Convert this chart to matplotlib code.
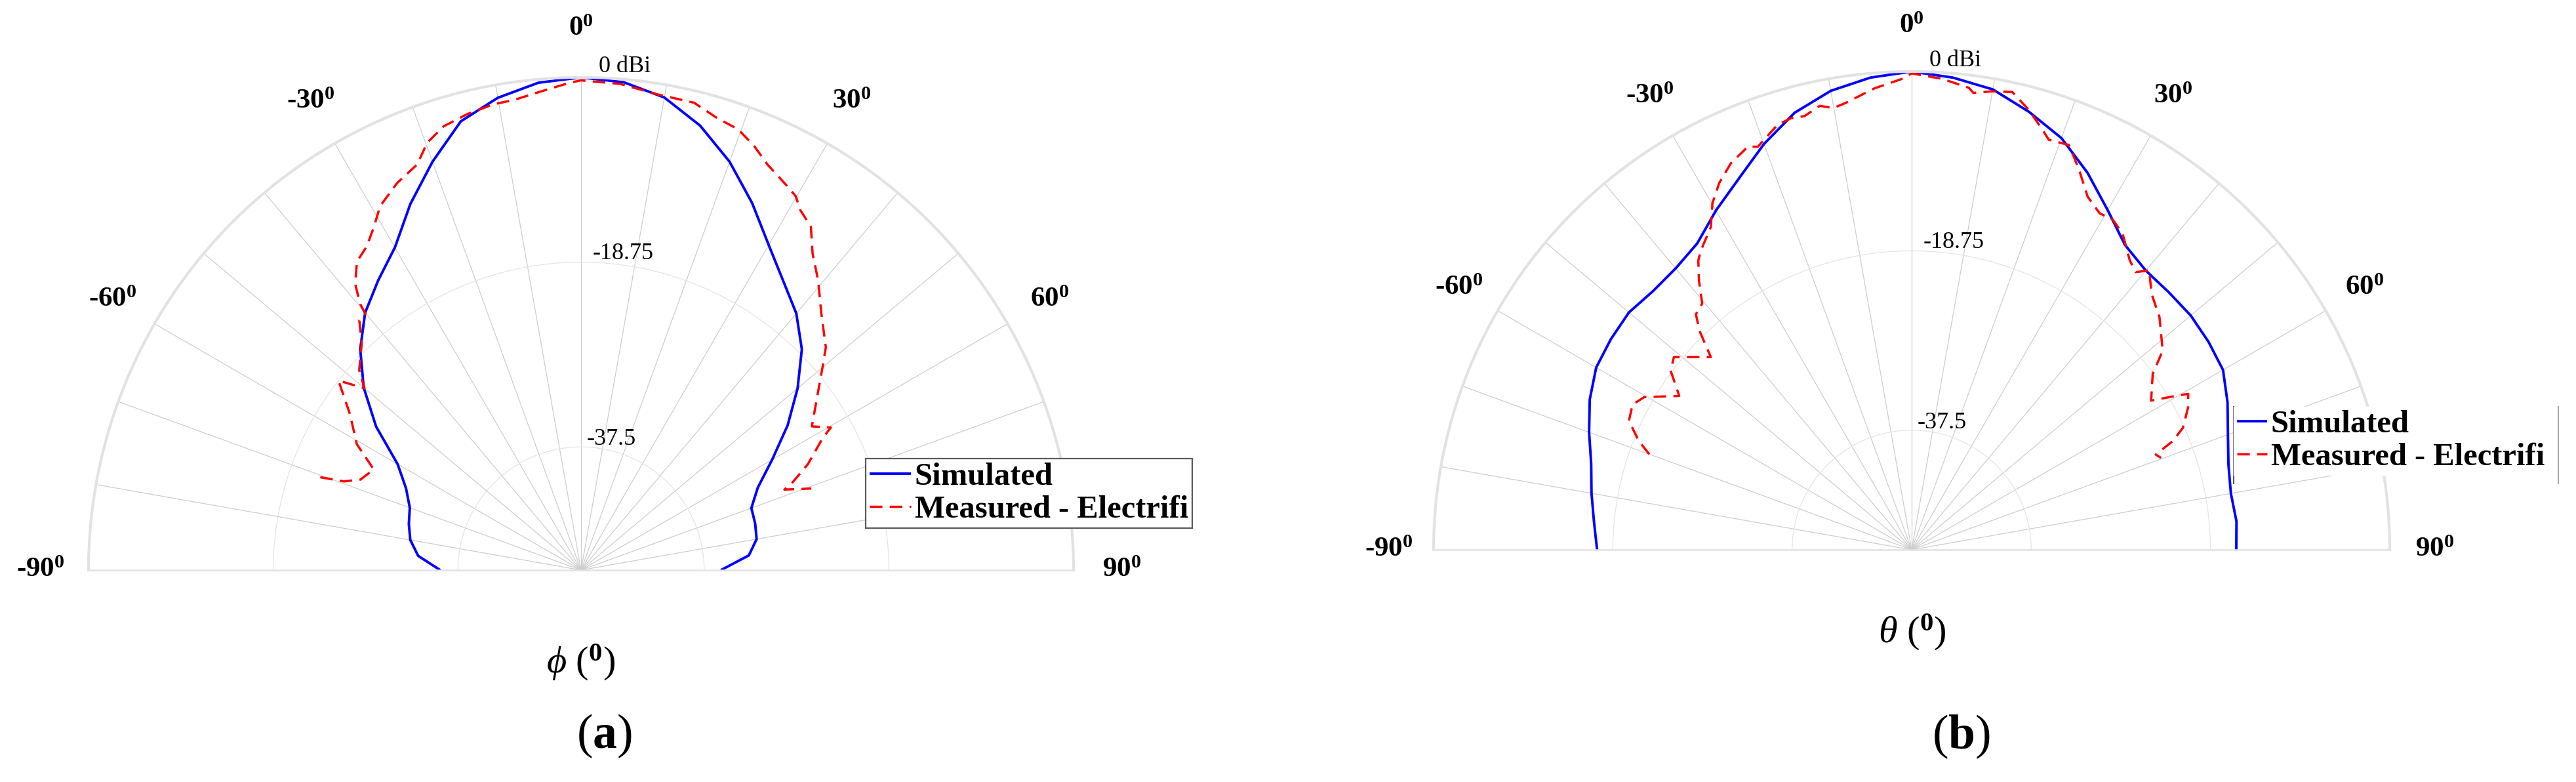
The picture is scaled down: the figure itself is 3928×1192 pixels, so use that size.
import numpy as np
import matplotlib
matplotlib.use("Agg")
import matplotlib.pyplot as plt
from matplotlib.lines import Line2D
from matplotlib.font_manager import FontProperties

plt.rcParams['font.family'] = ['Liberation Serif', 'DejaVu Serif']
plt.rcParams['mathtext.fontset'] = 'custom'
plt.rcParams['mathtext.rm'] = 'Liberation Serif'
plt.rcParams['mathtext.it'] = 'Liberation Serif:italic'
plt.rcParams['mathtext.bf'] = 'Liberation Serif:bold'

# ---------------- data ----------------
angle_ticks = [-90, -60, -30, 0, 30, 60, 90]
ring_ticks = [-37.5, -18.75]
ring_labels = ['-37.5', '-18.75']
r_min, r_max = -50, 0

sim_ang = [-90, -85, -80, -75, -70, -65, -60, -55, -50, -45, -40, -35, -30, -25, -20, -15, -10, -5,
           0, 5, 10, 15, 20, 25, 30, 35, 40, 45, 50, 55, 60, 65, 70, 75, 80, 85, 90]

# (a) phi cut
phi_sim_db = [-35.7, -33.4, -32.4, -31.9, -31.5, -30.4, -28.5, -24.6, -21.2, -18.3, -15.9, -14.1, -12.2,
              -9.0, -5.9, -2.85, -1.33, -0.35,
              0.0, -0.3, -1.3, -3.3, -5.9, -8.9, -11.9, -14.2, -16.0, -18.3, -21.3, -24.4, -27.6,
              -30.2, -31.6, -31.7, -31.9, -32.9, -35.8]

phi_meas_ang = [-70.4, -69.5, -67.7, -64.1, -60.7, -56.0, -52.0, -50.0, -48.0, -44.1, -41.6, -40.1,
                -39.7, -38.3, -36.0, -33.5, -31.1, -28.9, -25.4, -22.0, -19.8, -17.2, -14.0, -10.6,
                -8.1, -4.0, -1.2, 0.0, 4.6, 9.1, 13.6, 16.8, 19.6, 22.2, 24.7, 28.0, 29.9, 31.3,
                33.8, 36.2, 39.3, 43.1, 47.7, 50.0, 52.9, 58.1, 60.3, 61.3, 65.0, 67.8, 68.4, 70.5]
phi_meas_db = [-21.9, -24.3, -25.8, -26.6, -23.9, -21.7, -18.75, -21.3, -19.7, -18.0, -16.1, -16.0,
               -14.9, -13.0, -11.3, -10.6, -9.3, -7.8, -6.5, -5.6, -3.9, -2.85, -2.3, -1.9,
               -1.8, -1.1, -0.5, -0.3, -0.5, -1.1, -1.2, -2.1, -2.5, -3.5, -4.7, -5.7, -6.25, -7.2,
               -8.05, -10.2, -12.0, -14.3, -16.4, -18.0, -19.8, -22.4, -20.8, -22.0, -24.6, -27.0,
               -27.8, -25.2]

# (b) theta cut
theta_sim_db = [-17.1, -16.65, -16.0, -15.3, -14.1, -12.85, -11.9, -11.6, -11.4, -11.75, -11.6, -10.9,
                -9.05, -7.2, -4.85, -2.7, -1.28, -0.45,
                0.0, -0.45, -1.13, -2.6, -4.2, -6.5, -9.0, -11.1, -11.9, -11.95, -11.9, -12.1,
                -12.4, -13.55, -14.8, -15.7, -16.1, -15.9, -16.05]

theta_meas_ang = [-70.0, -68.3, -65.5, -62.5, -60.3, -56.5, -53.4, -51.0, -46.2, -44.1, -42.5, -40.4,
                  -38.3, -36.4, -35.1, -31.9, -29.9, -27.7, -25.1, -22.1, -20.9, -17.5, -15.6, -13.9,
                  -11.7, -10.1, -8.5, -4.6, -1.2, 0.0, 3.7, 7.05, 7.7, 10.0, 12.4, 14.9, 17.3, 18.5,
                  21.25, 23.8, 26.5, 29.2, 31.4, 33.7, 37.0, 38.9, 40.4, 43.1, 46.8, 51.6, 53.9,
                  58.1, 59.8, 60.6, 62.8, 65.8, 67.4, 68.7, 69.8]
theta_meas_db = [-20.8, -19.3, -17.5, -17.1, -17.8, -20.85, -18.6, -18.0, -20.9, -18.1, -16.6, -16.2,
                 -14.1, -12.4, -11.7, -10.25, -8.2, -6.7, -5.4, -4.5, -4.9, -3.4, -3.15, -3.3,
                 -2.6, -3.1, -2.8, -1.6, -0.77, -0.2, -0.66, -1.33, -1.8, -1.33, -1.0, -2.4, -4.0, -4.8,
                 -4.6, -6.6, -8.75, -9.7, -9.6, -10.25, -12.1, -12.7, -11.65, -13.3, -14.45, -16.5, -18.8,
                 -20.5, -18.0, -16.8, -17.5, -18.9, -20.4, -22.6, -22.2]

series_labels = ['Simulated', 'Measured - Electrifi']
panel_xlabels = [r'$\phi$ ($^{\mathbf{0}}$)', r'$\theta$ ($^{\mathbf{0}}$)']
panel_captions = [r'($\mathbf{a}$)', r'($\mathbf{b}$)']

# ---------------- figure ----------------
W, H = 3928, 1192
fig = plt.figure(figsize=(W / 100, H / 100), dpi=100)
fig.patch.set_facecolor('white')


def px_box(cx, cy, R):
    # polar axes keeps a square box; the half-disk is centred vertically in it
    side = 2 * R
    top = cy - 1.5 * R
    return [(cx - R) / W, (H - (top + side)) / H, side / W, side / H]


def make_polar(box):
    ax = fig.add_axes(box, projection='polar')
    ax.set_theta_zero_location('N')
    ax.set_theta_direction(-1)
    ax.set_thetamin(-90)
    ax.set_thetamax(90)
    ax.set_rlim(r_min, r_max)
    ax.set_xticks(np.deg2rad(np.arange(-90, 91, 10)))
    ax.set_xticklabels([])
    ax.set_yticks(ring_ticks)
    ax.set_yticklabels([])
    ax.tick_params(length=0)
    ax.xaxis.grid(True, color='#cdcdcd', lw=0.9)
    ax.yaxis.grid(True, color='#e4e4e4', lw=0.9)
    ax.spines['polar'].set_color('#e2e2e2')
    ax.spines['polar'].set_linewidth(3.0)
    for s in ('start', 'end'):
        ax.spines[s].set_color('#e2e2e2')
        ax.spines[s].set_linewidth(1.8)
    ax.spines['inner'].set_visible(False)
    return ax


def decorate(ax, label_r):
    for a in angle_ticks:
        ax.text(np.deg2rad(a), label_r, f'{a}' + r'$^{\mathbf{0}}$', ha='center', va='center',
                fontsize=31, fontweight='bold', clip_on=False)
    ax.annotate('0 dBi', xy=(0, r_max), xytext=(19.5, 5.5), textcoords='offset points',
                ha='left', va='baseline', fontsize=26, annotation_clip=False)
    offs = {'-18.75': (12.5, 3.0), '-37.5': (6.5, 2.2)}
    for rv, lab in zip(ring_ticks, ring_labels):
        ax.annotate(lab, xy=(0, rv), xytext=offs[lab], textcoords='offset points',
                    ha='left', va='baseline', fontsize=26, annotation_clip=False)


panels = [
    dict(center=(886, 869), R=751, sim=phi_sim_db, mang=phi_meas_ang, mdb=phi_meas_db, lab_r=4.9),
    dict(center=(2915, 838), R=729, sim=theta_sim_db, mang=theta_meas_ang, mdb=theta_meas_db, lab_r=4.7),
]

axes = []
handles = None
for p in panels:
    ax = make_polar(px_box(p['center'][0], p['center'][1], p['R']))
    l1, = ax.plot(np.deg2rad(sim_ang), p['sim'], color='#0000ff', lw=2.8, solid_capstyle='butt')
    l2, = ax.plot(np.deg2rad(p['mang']), p['mdb'], color='#ff0000', lw=2.5, dashes=(5.5, 3.2))
    decorate(ax, p['lab_r'])
    axes.append(ax)
    handles = [l1, l2]

# axis titles and captions
fig.text(886 / W, 1 - 1010 / H, panel_xlabels[0], ha='center', va='center', fontsize=42)
fig.text(2916 / W, 1 - 964 / H, panel_xlabels[1], ha='center', va='center', fontsize=42)
fig.text(921 / W, 1 - 1122 / H, panel_captions[0], ha='center', va='center', fontsize=53)
fig.text(2990 / W, 1 - 1123 / H, panel_captions[1], ha='center', va='center', fontsize=53)

legprop = FontProperties(family='Liberation Serif', weight='bold', size=35)

leg1 = fig.legend(handles, series_labels, loc='upper left', bbox_to_anchor=(1320 / W, 1 - 699 / H),
                  bbox_transform=fig.transFigure, borderaxespad=0, frameon=True, fancybox=False,
                  edgecolor='#5a5a5a', facecolor='white', framealpha=1, borderpad=0.12,
                  labelspacing=0.12, handlelength=1.3, handletextpad=0.12, prop=legprop)
leg1.get_frame().set_linewidth(1.6)

leg2 = fig.legend(handles, series_labels, loc='upper left', bbox_to_anchor=(3406 / W, 1 - 620 / H),
                  bbox_transform=fig.transFigure, borderaxespad=0, frameon=True, fancybox=False,
                  edgecolor='white', facecolor='white', framealpha=1, borderpad=0.1,
                  labelspacing=0.12, handlelength=0.95, handletextpad=0.12, prop=legprop)
fig.add_artist(Line2D([3406 / W, 3406 / W], [1 - 620 / H, 1 - 737 / H], color='#555555', lw=1.5,
                      transform=fig.transFigure))
fig.add_artist(Line2D([3901 / W, 3901 / W], [1 - 620 / H, 1 - 737 / H], color='#aaaaaa', lw=1.5,
                      transform=fig.transFigure))

fig.savefig('out.png', dpi=100, facecolor='white')
